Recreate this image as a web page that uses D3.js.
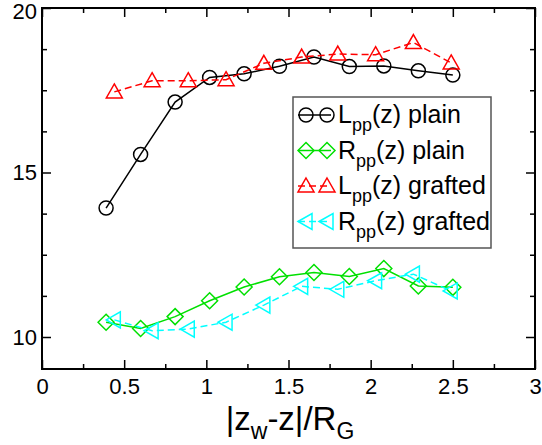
<!DOCTYPE html>
<html>
<head>
<meta charset="utf-8">
<script src="https://cdn.jsdelivr.net/npm/d3@7"></script>
<style>
  body { margin: 0; background: #fff; }
  svg { display: block; font-family: "Liberation Sans", Arial, sans-serif; }
</style>
</head>
<body>
<svg width="542" height="445"></svg>
<script>
// данные
const xPlain = [0.39, 0.60, 0.81, 1.02, 1.23, 1.445, 1.655, 1.87, 2.08, 2.29, 2.50];
const lppPlain = [13.92, 15.55, 17.14, 17.89, 18.00, 18.23, 18.51, 18.22, 18.24, 18.09, 17.96];
const rppPlain = [10.45, 10.26, 10.62, 11.10, 11.52, 11.83, 11.96, 11.84, 12.08, 11.55, 11.51];

const xGrafted = [0.44, 0.67, 0.89, 1.12, 1.35, 1.58, 1.80, 2.03, 2.26, 2.49];
const lppGrafted = [17.45, 17.79, 17.79, 17.82, 18.32, 18.51, 18.60, 18.58, 18.95, 18.33];
const rppGrafted = [10.52, 10.19, 10.24, 10.45, 10.97, 11.54, 11.45, 11.71, 11.91, 11.40];

const xTicks = [0, 0.5, 1, 1.5, 2, 2.5, 3];
const yTicks = [10, 15, 20];

const series = [
    {label: "L", rest: "(z) plain", xs: xPlain, ys: lppPlain, color: "#000000", dash: null, marker: "circle"},
    {label: "R", rest: "(z) plain", xs: xPlain, ys: rppPlain, color: "#00e000", dash: null, marker: "diamond"},
    {label: "L", rest: "(z) grafted", xs: xGrafted, ys: lppGrafted, color: "#ff0000", dash: "7,4", marker: "triangleUp"},
    {label: "R", rest: "(z) grafted", xs: xGrafted, ys: rppGrafted, color: "#00ffff", dash: "7,4", marker: "triangleLeft"}
];

const svg = d3.select("svg");

const area = {left: 42, right: 535, top: 8, bottom: 369};

const scX = d3.scaleLinear().domain([0, 3]).range([area.left, area.right]);
// y так, чтобы 20 было сверху, 10 на 337
const scY = d3.scaleLinear()
    .domain([20 - (area.bottom - area.top) / 32.9, 20])
    .range([area.bottom, area.top]);

// маркеры
function markerPath(type) {
    if (type === "circle") {
        return d3.symbol().type(d3.symbolCircle).size(Math.PI * 7 * 7)();
    }
    if (type === "diamond") {
        return "M0,-8L8,0L0,8L-8,0Z";
    }
    if (type === "triangleUp") {
        return "M0,-8L8,6L-8,6Z";
    }
    if (type === "triangleLeft") {
        return "M-8,0L6,-8L6,8Z";
    }
}

// оси
const fontTick = 22;

const axisBottom = d3.axisBottom(scX).tickValues(xTicks)
    .tickFormat(d => d3.format("")(d)).tickSize(-9).tickPadding(9);
const axisBottomMinor = d3.axisBottom(scX).tickValues(d3.range(0.25, 3, 0.5))
    .tickFormat("").tickSize(-5);
const axisTop = d3.axisTop(scX).tickValues(xTicks).tickFormat("").tickSize(-9);
const axisTopMinor = d3.axisTop(scX).tickValues(d3.range(0.25, 3, 0.5)).tickFormat("").tickSize(-5);

const yMinor = [11.25, 12.5, 13.75, 16.25, 17.5, 18.75];
const axisLeft = d3.axisLeft(scY).tickValues(yTicks).tickSize(-9).tickPadding(5);
const axisLeftMinor = d3.axisLeft(scY).tickValues(yMinor).tickFormat("").tickSize(-5);
const axisRight = d3.axisRight(scY).tickValues(yTicks).tickFormat("").tickSize(-9);
const axisRightMinor = d3.axisRight(scY).tickValues(yMinor).tickFormat("").tickSize(-5);

function styleAxis(g) {
    g.select(".domain").remove();
    g.selectAll("line").attr("stroke", "#000").attr("stroke-width", 1.5);
    g.selectAll("text").attr("fill", "#000").style("font-size", fontTick + "px")
        .style("font-family", "'Liberation Sans', Arial, sans-serif");
}

svg.append("g").attr("transform", `translate(0,${area.bottom})`).call(axisBottom).call(styleAxis);
svg.append("g").attr("transform", `translate(0,${area.bottom})`).call(axisBottomMinor).call(styleAxis);
svg.append("g").attr("transform", `translate(0,${area.top})`).call(axisTop).call(styleAxis);
svg.append("g").attr("transform", `translate(0,${area.top})`).call(axisTopMinor).call(styleAxis);
const gLeft = svg.append("g").attr("transform", `translate(${area.left},0)`).call(axisLeft).call(styleAxis);
// верхняя подпись "20" чуть ниже, чтобы не обрезалась
gLeft.selectAll("text").filter(d => d === 20).attr("y", 3);
svg.append("g").attr("transform", `translate(${area.left},0)`).call(axisLeftMinor).call(styleAxis);
svg.append("g").attr("transform", `translate(${area.right},0)`).call(axisRight).call(styleAxis);
svg.append("g").attr("transform", `translate(${area.right},0)`).call(axisRightMinor).call(styleAxis);

// рамка
svg.append("rect")
    .attr("x", area.left).attr("y", area.top)
    .attr("width", area.right - area.left).attr("height", area.bottom - area.top)
    .attr("fill", "none").attr("stroke", "#000").attr("stroke-width", 2);

// линии и маркеры
const line = d3.line().x(d => scX(d[0])).y(d => scY(d[1]));

series.forEach(s => {
    const pts = s.xs.map((x, i) => [x, s.ys[i]]);
    svg.append("path")
        .datum(pts)
        .attr("d", line)
        .attr("fill", "none")
        .attr("stroke", s.color)
        .attr("stroke-width", 1.5)
        .attr("stroke-dasharray", s.dash);

    svg.selectAll(null)
        .data(pts)
        .enter()
        .append("path")
        .attr("d", markerPath(s.marker))
        .attr("transform", d => `translate(${scX(d[0])},${scY(d[1])})`)
        .attr("fill", "none")
        .attr("stroke", s.color)
        .attr("stroke-width", 1.5);
});

// легенда
const legend = svg.append("g").attr("transform", "translate(293,97)");
legend.append("rect")
    .attr("width", 198).attr("height", 151)
    .attr("fill", "#fff").attr("stroke", "#555").attr("stroke-width", 1.5);

series.forEach((s, i) => {
    const y = 18 + i * 35.5;
    const row = legend.append("g").attr("transform", `translate(0,${y})`);
    row.append("line")
        .attr("x1", 5).attr("x2", 38).attr("y1", 0).attr("y2", 0)
        .attr("stroke", s.color).attr("stroke-width", 1.5)
        .attr("stroke-dasharray", s.dash);
    [13, 34].forEach(mx => {
        row.append("path")
            .attr("d", markerPath(s.marker))
            .attr("transform", `translate(${mx},0)`)
            .attr("fill", "none")
            .attr("stroke", s.color)
            .attr("stroke-width", 1.5);
    });
    const t = row.append("text")
        .attr("x", 45).attr("y", 8)
        .style("font-size", "25px")
        .attr("fill", "#000");
    t.append("tspan").text(s.label);
    t.append("tspan").attr("dy", 8).style("font-size", "18px").text("pp");
    t.append("tspan").attr("dy", -8).text(s.rest);
});

// подпись оси X
const xl = svg.append("text")
    .attr("x", 290).attr("y", 430)
    .attr("text-anchor", "middle")
    .style("font-size", "33px")
    .attr("fill", "#000");
xl.append("tspan").text("|z");
xl.append("tspan").attr("dy", 9).style("font-size", "23px").text("w");
xl.append("tspan").attr("dy", -9).text("-z|/R");
xl.append("tspan").attr("dy", 9).style("font-size", "23px").text("G");
</script>
</body>
</html>
